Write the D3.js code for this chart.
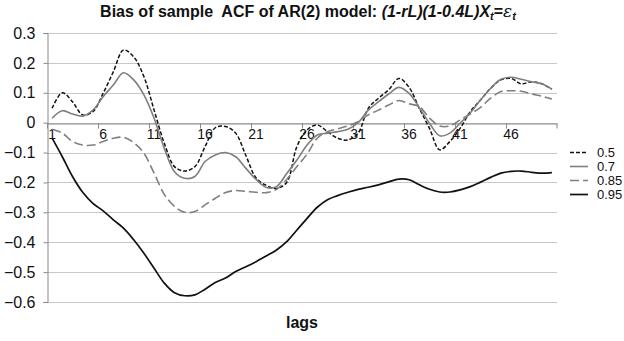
<!DOCTYPE html>
<html lang="en">
<head>
    <meta charset="UTF-8">
    <title>Bias of sample ACF</title>
    <script src="https://d3js.org/d3.v7.min.js"></script>
</head>
<style>
    body { margin: 0; background: #fff; }
    text { font-family: "Liberation Sans", Arial, sans-serif; fill: #111; }
    .grid line { stroke: #c8c8c8; stroke-width: 1; }
    .title { font-size: 16px; font-weight: bold; }
    .tick-y { font-size: 16px; }
    .tick-x { font-size: 14px; }
    .legend text { font-size: 13px; }
</style>
<body>
<div class="chart"></div>
<script>
    // lags 1..50
    var lags = d3.range(1, 51);
    var yTicks = [0.3, 0.2, 0.1, 0, -0.1, -0.2, -0.3, -0.4, -0.5, -0.6];
    var xLabels = [1, 6, 11, 16, 21, 26, 31, 36, 41, 46];
    var seriesNames = ["0.5", "0.7", "0.85", "0.95"];

    var r05 = [0.048, 0.10, 0.07, 0.026, 0.037, 0.098, 0.17, 0.243, 0.22, 0.154,
               0.042, -0.069, -0.147, -0.162, -0.147, -0.08, -0.017, -0.013, -0.035, -0.11,
               -0.185, -0.21, -0.22, -0.2, -0.08, -0.024, -0.008, -0.03, -0.052, -0.058,
               -0.035, 0.048, 0.082, 0.11, 0.148, 0.118, 0.048, -0.019, -0.091, -0.063,
               -0.019, 0.037, 0.076, 0.115, 0.143, 0.148, 0.13, 0.137, 0.13, 0.112];
    var r07 = [0.015, 0.04, 0.029, 0.022, 0.042, 0.087, 0.126, 0.167, 0.143, 0.093,
               0.015, -0.086, -0.164, -0.186, -0.18, -0.13, -0.108, -0.10, -0.114, -0.153,
               -0.19, -0.217, -0.214, -0.17, -0.125, -0.075, -0.041, -0.035, -0.03, -0.022,
               0.0, 0.042, 0.07, 0.096, 0.118, 0.098, 0.05, -0.002, -0.044, -0.035,
               -0.002, 0.033, 0.076, 0.115, 0.145, 0.152, 0.145, 0.137, 0.13, 0.112];
    var r085 = [-0.022, -0.035, -0.063, -0.075, -0.075, -0.063, -0.052, -0.049, -0.067, -0.102,
                -0.169, -0.24, -0.28, -0.30, -0.297, -0.275, -0.253, -0.234, -0.227, -0.23,
                -0.233, -0.234, -0.223, -0.19, -0.147, -0.105, -0.052, -0.03, -0.021, -0.011,
                0.003, 0.026, 0.042, 0.059, 0.074, 0.063, 0.054, 0.015, -0.011, -0.011,
                0.009, 0.029, 0.051, 0.082, 0.104, 0.107, 0.105, 0.096, 0.089, 0.079];
    var r095 = [-0.052, -0.114, -0.18, -0.233, -0.27, -0.295, -0.325, -0.353, -0.392, -0.437,
                -0.487, -0.537, -0.569, -0.579, -0.576, -0.557, -0.535, -0.52, -0.498, -0.482,
                -0.465, -0.446, -0.426, -0.398, -0.359, -0.32, -0.283, -0.258, -0.244, -0.233,
                -0.223, -0.216, -0.208, -0.198, -0.189, -0.191, -0.208, -0.223, -0.232, -0.232,
                -0.225, -0.214, -0.199, -0.183, -0.169, -0.163, -0.162, -0.166, -0.169, -0.167];

    var styles = [
        {color: "#111", dash: "4,2", w: 1.5},
        {color: "#7f7f7f", dash: null, w: 1.6},
        {color: "#7f7f7f", dash: "9,4", w: 1.6},
        {color: "#111", dash: null, w: 1.7}
    ];
    var seriesValues = [r05, r07, r085, r095];

    var W = 624, H = 341;
    var plot = {left: 47, right: 557, top: 33, bottom: 302};

    var svg = d3.select(".chart").append("svg")
        .attr("width", W).attr("height", H);

    var x = d3.scaleBand().domain(lags).range([plot.left, plot.right]);
    var y = d3.scaleLinear().domain([-0.6, 0.3]).range([plot.bottom, plot.top]);

    // gridlines
    svg.append("g").attr("class", "grid")
        .selectAll("line").data(yTicks).enter().append("line")
        .attr("x1", plot.left).attr("x2", plot.right)
        .attr("y1", function(d) { return Math.round(y(d)) + 0.5; })
        .attr("y2", function(d) { return Math.round(y(d)) + 0.5; });

    // y axis
    var yAxis = svg.append("g")
        .attr("transform", "translate(" + (plot.left + 0.5) + ",0)")
        .call(d3.axisLeft(y).tickValues(yTicks).tickSize(4).tickPadding(8)
            .tickFormat(function(d) { return d === 0 ? "0" : d3.format(".1f")(d); }));
    yAxis.select(".domain").attr("stroke", "#888");
    yAxis.selectAll(".tick line").attr("stroke", "#888");
    yAxis.selectAll("text").attr("class", "tick-y").attr("fill", "#111");

    // x axis on zero line
    var xAxis = svg.append("g")
        .attr("transform", "translate(0," + (Math.round(y(0)) + 0.5) + ")")
        .call(d3.axisBottom(x).tickValues(xLabels).tickSize(0).tickPadding(6));
    xAxis.select(".domain").attr("stroke", "#888");
    xAxis.selectAll("text").attr("class", "tick-x").attr("fill", "#111");
    // boundary ticks every 5 lags
    xAxis.selectAll(".bt").data(xLabels.concat([51])).enter().append("line")
        .attr("class", "bt")
        .attr("x1", function(d) { return d === 51 ? plot.right : Math.round(x(d)) + 0.5; })
        .attr("x2", function(d) { return d === 51 ? plot.right : Math.round(x(d)) + 0.5; })
        .attr("y1", 0).attr("y2", 5).attr("stroke", "#888");

    var line = d3.line()
        .x(function(d, i) { return x(lags[i]) + x.bandwidth() / 2; })
        .y(function(d) { return y(d); })
        .curve(d3.curveCatmullRom.alpha(0.5));

    svg.append("g").selectAll("path").data(seriesValues).enter().append("path")
        .attr("d", line)
        .attr("fill", "none")
        .attr("stroke", function(d, i) { return styles[i].color; })
        .attr("stroke-width", function(d, i) { return styles[i].w; })
        .attr("stroke-dasharray", function(d, i) { return styles[i].dash; });

    // title
    var title = svg.append("text").attr("class", "title")
        .attr("x", 308).attr("y", 17).attr("text-anchor", "middle");
    title.append("tspan").text("Bias of sample\u00a0 ACF of AR(2) model: ");
    title.append("tspan").attr("font-style", "italic").text("(1-rL)(1-0.4L)X");
    title.append("tspan").attr("font-style", "italic").attr("font-size", "11px").attr("dy", 3).text("t");
    title.append("tspan").attr("dy", -3).text("=");
    title.append("tspan").attr("font-style", "italic").attr("font-weight", "normal")
        .attr("font-family", "'DejaVu Serif', serif").attr("font-size", "17px").text("\u03b5");
    title.append("tspan").attr("font-style", "italic").attr("font-size", "11px").attr("dy", 3).text("t");

    // x axis title
    svg.append("text").attr("class", "title")
        .attr("x", 302).attr("y", 328).attr("text-anchor", "middle").text("lags");

    // legend
    var legend = svg.append("g").attr("class", "legend")
        .selectAll("g").data(seriesNames).enter().append("g")
        .attr("transform", function(d, i) { return "translate(570," + (152 + i * 14) + ")"; });
    legend.append("line")
        .attr("x1", 0).attr("x2", 18).attr("y1", 0.5).attr("y2", 0.5)
        .attr("stroke", function(d, i) { return styles[i].color; })
        .attr("stroke-width", function(d, i) { return styles[i].w; })
        .attr("stroke-dasharray", function(d, i) { return styles[i].dash; });
    legend.append("text").attr("x", 27).attr("y", 5).text(function(d) { return d; });
</script>
</body>
</html>
